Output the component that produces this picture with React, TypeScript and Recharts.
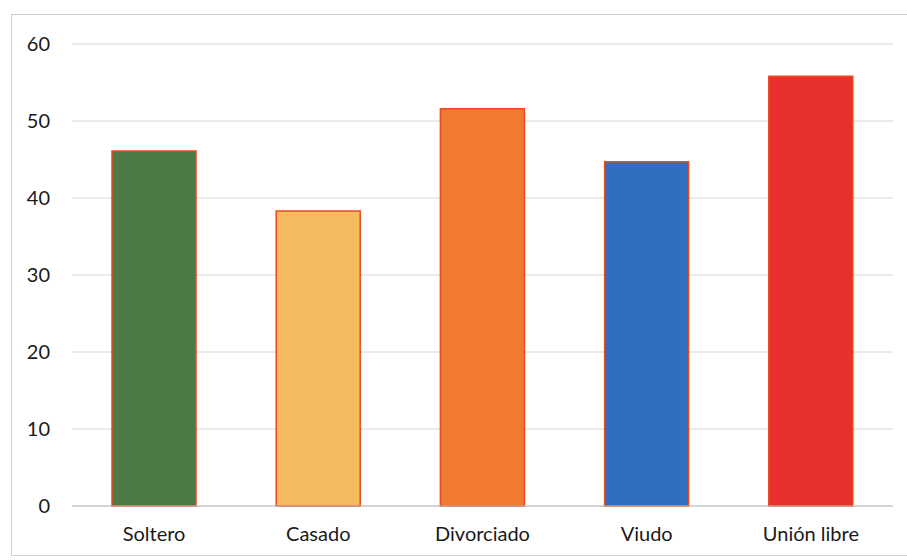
import React from "react"
import { BarChart, Bar, XAxis, YAxis, CartesianGrid, Cell } from "recharts"

const categories = ["Soltero", "Casado", "Divorciado", "Viudo", "Unión libre"]
const values = [46.1, 38.3, 51.6, 44.7, 55.8]
const colors = ["#4b7a44", "#f7bb5f", "#f07a30", "#2f6fbf", "#e8312f"]
const yTicks = [0, 10, 20, 30, 40, 50, 60]

const data = categories.map((name, i) => ({ name, value: values[i] }))

const font = { fontFamily: "Lato, 'Open Sans', sans-serif", fontSize: 20, fill: "#1a1a1a" }

export default function App() {
  return (
    <div style={{ position: "relative", width: 907, height: 560, background: "#fff" }}>
      <style>{"body{margin:0}"}</style>
      <div
        style={{
          position: "absolute",
          left: 11,
          top: 14,
          width: 900,
          height: 542,
          border: "1px solid #cfcfcf",
          boxSizing: "border-box",
        }}
      />
      <BarChart
        width={907}
        height={560}
        data={data}
        margin={{ top: 44, right: 14, left: 0, bottom: 0 }}
        barCategoryGap={40}
      >
        <CartesianGrid vertical={false} stroke="#d6d6d6" />
        <XAxis
          dataKey="name"
          height={54}
          tickLine={false}
          tickSize={0}
          tickMargin={21}
          stroke="#bdbdbd"
          tick={font}
        />
        <YAxis
          width={72}
          domain={[0, 60]}
          ticks={yTicks}
          axisLine={false}
          tickLine={false}
          tickSize={0}
          tickMargin={22}
          tick={font}
        />
        <Bar dataKey="value" stroke="#ea4a1e" strokeWidth={1.5} isAnimationActive={false}>
          {data.map((d, i) => (
            <Cell key={d.name} fill={colors[i]} />
          ))}
        </Bar>
      </BarChart>
    </div>
  )
}
